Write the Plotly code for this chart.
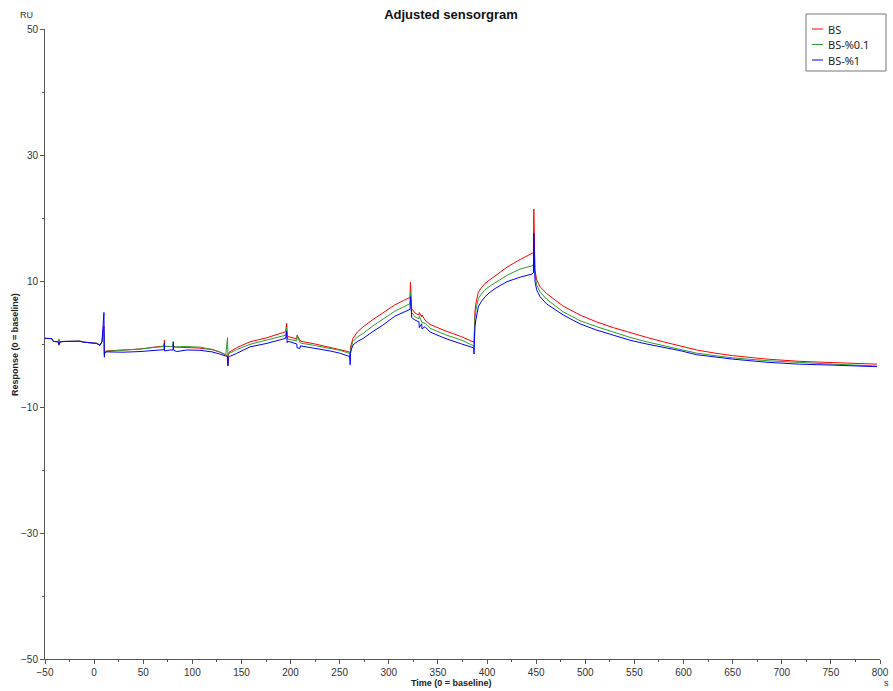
import plotly.graph_objects as go

# Sensorgram time base (s, 0 = baseline)
time_s = [
    -50, -43, -41.5, -36.5, -35.7, -35, -31.7, -14.4, -11, 2.6, 6, 8,
    10.0, 10.4, 10.8, 12.8, 29.5, 46.7, 63.7, 71.2, 71.5, 71.8, 77.2, 80.3, 80.6, 81.0,
    84.1, 94.3, 107.8, 120, 128, 134,
    135.8, 136.2, 136.6, 137.5, 145, 158.7, 176, 195,
    196.0, 196.5, 197.0, 199.4, 206.3, 206.6, 209.6, 210.0, 225, 240, 250, 258.4,
    260.3, 260.6, 261.0, 262, 263.5, 268, 274, 284, 294, 306, 315, 321.6,
    322.0, 322.5, 323.3, 326.7, 330.7, 331.0, 333.5, 333.8, 336.8, 342, 357.2, 374.2, 384.4,
    386.4, 386.7, 387.2, 387.7, 388.7, 391.1, 394, 397.9, 402, 408.1, 420.3, 433.5, 445.7,
    447.2, 447.6, 448.0, 448.8, 450.5, 453.9, 460.7, 477.6, 494.6, 511.6, 528.5, 545.5,
    562.5, 579.4, 596.4, 613.4, 632, 650, 685, 718, 752, 797,
]

# Responses (RU, 0 = baseline)
resp_bs = [
    0.9, 0.85, 0.4, 0.35, -0.2, 0.3, 0.4, 0.45, 0.3, 0.1, -0.2, 0.4,
    2.8, -1.6, -1.2, -1.1, -1.0, -0.8, -0.45, -0.35, 0.6, -0.35, -0.4, -0.4, 0.0, -0.45,
    -0.5, -0.55, -0.65, -0.9, -1.3, -1.75,
    -1.8, -3.3, -1.7, -1.3, -0.6, 0.35, 1.0, 1.95,
    3.3, 1.0, 1.2, 1.1, 0.8, 1.4, 0.6, 0.45, 0.0, -0.5, -0.85, -1.2,
    -1.3, -2.0, -0.5, 0.2, 0.9, 1.9, 2.75, 3.9, 4.9, 6.2, 6.9, 7.4,
    9.8, 6.0, 5.6, 4.9, 4.6, 5.0, 4.3, 4.6, 3.8, 3.1, 2.1, 1.15, 0.4,
    0.3, 0.1, 3.5, 5.2, 6.5, 8.2, 8.9, 9.6, 10.1, 10.8, 12.2, 13.4, 14.3,
    14.5, 21.4, 13.0, 11.7, 10.2, 9.1, 8.0, 6.0, 4.6, 3.5, 2.6, 1.8,
    1.05, 0.35, -0.3, -0.95, -1.45, -1.85, -2.4, -2.75, -2.95, -3.2,
]

resp_bs_01 = [
    0.9, 0.85, 0.4, 0.4, 0.8, 0.35, 0.4, 0.45, 0.3, 0.1, -0.15, 0.35,
    1.8, -1.7, -1.3, -1.15, -1.0, -0.8, -0.5, -0.4, 0.2, -0.4, -0.4, -0.4, 0.4, -0.45,
    -0.45, -0.4, -0.5, -0.85, -1.25, -1.7,
    1.0, -1.8, -1.7, -1.5, -0.9, -0.05, 0.6, 1.4,
    2.5, 0.8, 0.8, 0.7, 0.5, 1.3, 0.3, 0.15, -0.25, -0.7, -1.0, -1.4,
    -1.5, -2.4, -0.9, -0.3, 0.4, 1.1, 1.7, 2.9, 3.9, 5.2, 5.9, 6.4,
    8.3, 5.3, 5.0, 4.3, 4.0, 4.4, 3.7, 3.4, 3.3, 2.5, 1.5, 0.6, -0.15,
    -0.25, -0.5, 2.5, 4.2, 5.4, 7.2, 7.9, 8.6, 9.1, 9.7, 10.9, 11.9, 12.4,
    12.6, 14.5, 12.0, 10.9, 9.4, 8.3, 7.1, 5.1, 3.7, 2.75, 1.85, 1.05,
    0.35, -0.25, -0.9, -1.45, -1.85, -2.2, -2.65, -2.95, -3.2, -3.5,
]

resp_bs_1 = [
    0.9, 0.85, 0.4, 0.35, -0.1, 0.3, 0.4, 0.45, 0.3, 0.1, -0.2, 0.35,
    5.0, -2.1, -1.4, -1.25, -1.3, -1.2, -0.95, -0.9, 0.1, -1.1, -0.95, -0.95, 0.3, -1.0,
    -1.2, -0.95, -1.0, -1.25, -1.6, -2.0,
    -2.0, -3.5, -2.1, -2.0, -1.5, -0.45, 0.1, 0.9,
    2.0, 0.2, 0.4, 0.35, 0.0, -0.6, -0.7, -0.3, -0.65, -1.1, -1.45, -1.9,
    -2.0, -3.3, -1.5, -0.8, -0.15, 0.4, 0.9, 2.0, 3.0, 4.4, 5.0, 5.5,
    7.5, 4.5, 4.2, 3.8, 3.5, 2.6, 3.2, 2.4, 2.75, 1.9, 0.9, 0.0, -0.5,
    -0.6, -1.6, 1.0, 2.8, 3.9, 5.9, 6.7, 7.5, 8.1, 8.8, 9.9, 10.6, 11.1,
    11.3, 17.6, 11.0, 9.9, 8.6, 7.5, 6.35, 4.6, 3.2, 2.2, 1.4, 0.6,
    0.0, -0.5, -1.05, -1.7, -2.1, -2.4, -2.9, -3.2, -3.35, -3.6,
]

series = [
    ("BS", resp_bs, "#ff0000"),
    ("BS-%0.1", resp_bs_01, "#2f9a2f"),
    ("BS-%1", resp_bs_1, "#0000ff"),
]

x_ticks = list(range(-50, 801, 50))
y_ticks = [50, 30, 10, -10, -30, -50]

# Plot-area geometry in pixels (used to place the boxed legend and labels)
W, H = 893, 691
L, R, T, B = 45, 13, 29, 32
PW, PH = W - L - R, H - T - B


def px_x(px):
    return (px - L) / PW


def px_y(py):
    return (H - B - py) / PH


fig = go.Figure()
for name, values, color in series:
    fig.add_trace(go.Scatter(
        x=time_s, y=values, name=name, mode="lines",
        line=dict(color=color, width=1), showlegend=False,
    ))

axis_font = dict(family="Liberation Sans, Arial, sans-serif", size=10, color="#333333")

fig.update_layout(
    width=W, height=H,
    margin=dict(l=L, r=R, t=T, b=B, autoexpand=False),
    paper_bgcolor="white", plot_bgcolor="white",
    title=dict(
        text="<b>Adjusted sensorgram</b>",
        x=0.505, xanchor="center", y=1 - 14 / H, yanchor="middle",
        font=dict(family="Liberation Sans, Arial, sans-serif", size=13, color="#111111"),
    ),
    xaxis=dict(
        range=[-50, 800], tickvals=x_ticks, ticks="outside", ticklen=4,
        tickcolor="#555555", showline=True, linecolor="#555555", linewidth=1,
        showgrid=False, zeroline=False, tickfont=axis_font,
        minor=dict(dtick=25, tick0=-50, ticks="outside", ticklen=2, tickcolor="#555555"),
    ),
    yaxis=dict(
        range=[-50, 50], tickvals=y_ticks, ticks="outside", ticklen=4,
        tickcolor="#555555", showline=True, linecolor="#555555", linewidth=1,
        showgrid=False, zeroline=False, tickfont=axis_font,
        minor=dict(dtick=10, tick0=-50, ticks="outside", ticklen=2, tickcolor="#555555"),
    ),
)

# Boxed legend with short line samples
fig.add_shape(type="rect", xref="paper", yref="paper",
              x0=px_x(806), x1=px_x(886), y0=px_y(71), y1=px_y(14),
              line=dict(color="#777777", width=1), fillcolor="white", layer="above")
for i, (name, _, color) in enumerate(series):
    ly = 29 + i * 15.5
    fig.add_shape(type="line", xref="paper", yref="paper",
                  x0=px_x(812), x1=px_x(823), y0=px_y(ly), y1=px_y(ly),
                  line=dict(color=color, width=1), layer="above")
    fig.add_annotation(text=name, xref="paper", yref="paper",
                       x=px_x(826), y=px_y(ly), xanchor="left", yanchor="middle",
                       showarrow=False,
                       font=dict(family="Noto Sans, sans-serif", size=11, color="#222222"))

label_font = dict(family="Liberation Sans, Arial, sans-serif", size=9, color="#222222")
fig.add_annotation(text="<b>Time (0 = baseline)</b>", xref="paper", yref="paper",
                   x=px_x(451), y=px_y(683), xanchor="center", yanchor="middle",
                   showarrow=False, font=label_font)
fig.add_annotation(text="<b>Response (0 = baseline)</b>", xref="paper", yref="paper",
                   x=px_x(15), y=px_y(345), xanchor="center", yanchor="middle", textangle=-90,
                   showarrow=False, font=label_font)
fig.add_annotation(text="RU", xref="paper", yref="paper",
                   x=px_x(26), y=px_y(15), xanchor="center", yanchor="middle",
                   showarrow=False,
                   font=dict(family="Liberation Sans, Arial, sans-serif", size=9, color="#333333"))
fig.add_annotation(text="s", xref="paper", yref="paper",
                   x=px_x(886), y=px_y(683), xanchor="center", yanchor="middle",
                   showarrow=False,
                   font=dict(family="Liberation Sans, Arial, sans-serif", size=9, color="#333333"))

fig.write_html("out.html")
